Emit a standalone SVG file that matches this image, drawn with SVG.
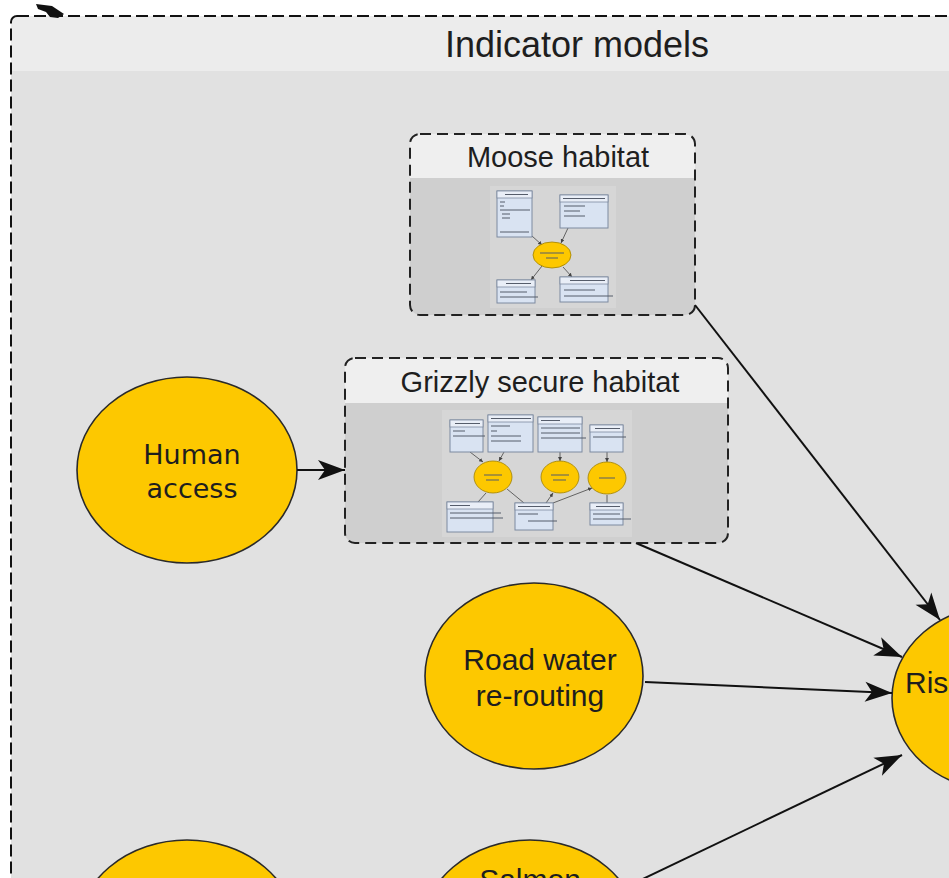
<svg xmlns="http://www.w3.org/2000/svg" width="949" height="878" viewBox="0 0 949 878">
  <style>
    .frame { stroke: #111; stroke-width: 2; fill: none; stroke-dasharray: 12 5; }
    .boxframe { stroke: #222; stroke-width: 2; fill: none; stroke-dasharray: 11 6; }
    .node { fill: #fdc800; stroke: #2a2a2a; stroke-width: 1.6; }
    .label { font-family: "Liberation Sans", Arial, sans-serif; fill: #1e1e1e; }
    .label-dv { font-family: "DejaVu Sans", Verdana, sans-serif; fill: #1e1e1e; }
    .edge { stroke: #111; stroke-width: 2; fill: none; }
    .tbox { fill: #d9e3f2; stroke: #7d8aa0; stroke-width: 1; }
    .thead { fill: #e9eef7; stroke: #7d8aa0; stroke-width: 0.8; }
    .tline { stroke: #555c6a; stroke-width: 1; }
    .tnode { fill: #fdc800; stroke: #a08000; stroke-width: 0.8; }
    .tedge { stroke: #555; stroke-width: 0.9; fill: none; }
  </style>
  <defs>
    <marker id="arrow" markerUnits="userSpaceOnUse" viewBox="-28 -11 29 22" refX="0" refY="0" markerWidth="29" markerHeight="22" orient="auto">
      <path d="M0,0 L-27,-10 L-20,0 L-27,10 Z" fill="#111"/>
    </marker>
    <marker id="tarrow" markerUnits="userSpaceOnUse" viewBox="-4 -2 4 4" refX="0" refY="0" markerWidth="4" markerHeight="4" orient="auto">
      <path d="M0,0 L-4,-2 L-4,2 Z" fill="#444"/>
    </marker>
  </defs>

  <rect x="0" y="0" width="949" height="878" fill="#ffffff"/>

  <!-- Indicator models container -->
  <g id="indicator-models">
    <rect x="11" y="16" width="1000" height="1000" rx="6" fill="#e1e1e1"/>
    <path d="M11,71 V22 A6,6 0 0 1 17,16 H1011 V71 Z" fill="#ececec"/>
    <rect x="11" y="16" width="1000" height="1000" rx="6" class="frame"/>
    <text x="577" y="57" text-anchor="middle" class="label" font-size="36">Indicator models</text>
  </g>

  <!-- incoming connector tip on the container border -->
  <path d="M36,4 L52,6 L64,14 L58,18 L50,17 L46,12 L38,9 Z" fill="#111"/>

  <!-- Moose habitat submodel -->
  <g id="moose-habitat">
    <rect x="410" y="134" width="285" height="181" rx="10" fill="#cfcfcf"/>
    <path d="M410,178 V144 A10,10 0 0 1 420,134 H685 A10,10 0 0 1 695,144 V178 Z" fill="#efefef"/>
    <rect x="410" y="134" width="285" height="181" rx="10" class="boxframe"/>
    <text x="558" y="167" text-anchor="middle" class="label" font-size="29">Moose habitat</text>
    <g id="moose-thumb">
      <rect x="490" y="186" width="126" height="122" fill="#d6d6d6"/>
      <line x1="532" y1="236" x2="542" y2="245" class="tedge" marker-end="url(#tarrow)"/>
      <line x1="568" y1="228" x2="561" y2="243" class="tedge" marker-end="url(#tarrow)"/>
      <line x1="542" y1="266" x2="531" y2="280" class="tedge" marker-end="url(#tarrow)"/>
      <line x1="563" y1="267" x2="572" y2="277" class="tedge" marker-end="url(#tarrow)"/>
      <rect x="497" y="191" width="35" height="46" class="tbox"/>
      <rect x="497" y="191" width="35" height="7" class="thead"/>
      <line x1="505" y1="194.5" x2="528" y2="194.5" class="tline"/>
      <line x1="500" y1="202" x2="505" y2="202" class="tline"/>
      <line x1="500" y1="206" x2="504" y2="206" class="tline"/>
      <line x1="500" y1="210" x2="530" y2="210" class="tline"/>
      <line x1="502" y1="214" x2="510" y2="214" class="tline"/>
      <line x1="502" y1="218" x2="510" y2="218" class="tline"/>
      <line x1="500" y1="232" x2="529" y2="232" class="tline"/>
      <rect x="560" y="195" width="48" height="33" class="tbox"/>
      <rect x="560" y="195" width="48" height="7" class="thead"/>
      <line x1="563" y1="198.5" x2="605" y2="198.5" class="tline"/>
      <line x1="564" y1="206" x2="585" y2="206" class="tline"/>
      <line x1="564" y1="211" x2="580" y2="211" class="tline"/>
      <line x1="564" y1="216" x2="585" y2="216" class="tline"/>
      <ellipse cx="552" cy="255" rx="19" ry="13" class="tnode"/>
      <line x1="540" y1="253" x2="564" y2="253" class="tline" stroke-width="0.8"/>
      <line x1="546" y1="258" x2="558" y2="258" class="tline" stroke-width="0.8"/>
      <rect x="497" y="280" width="38" height="23" class="tbox"/>
      <rect x="497" y="280" width="38" height="7" class="thead"/>
      <line x1="506" y1="283.5" x2="531" y2="283.5" class="tline"/>
      <line x1="500" y1="292" x2="527" y2="292" class="tline"/>
      <line x1="500" y1="297" x2="538" y2="297" class="tline"/>
      <rect x="560" y="277" width="48" height="25" class="tbox"/>
      <rect x="560" y="277" width="48" height="7" class="thead"/>
      <line x1="570" y1="280.5" x2="605" y2="280.5" class="tline"/>
      <line x1="564" y1="290" x2="595" y2="290" class="tline"/>
      <line x1="564" y1="296" x2="613" y2="296" class="tline"/>
    </g>
  </g>

  <!-- Grizzly secure habitat submodel -->
  <g id="grizzly-secure-habitat">
    <rect x="345" y="358" width="383" height="185" rx="10" fill="#cfcfcf"/>
    <path d="M345,403 V368 A10,10 0 0 1 355,358 H718 A10,10 0 0 1 728,368 V403 Z" fill="#efefef"/>
    <rect x="345" y="358" width="383" height="185" rx="10" class="boxframe"/>
    <text x="540" y="392" text-anchor="middle" class="label" font-size="29">Grizzly secure habitat</text>
    <g id="grizzly-thumb">
      <rect x="442" y="410" width="190" height="127" fill="#d6d6d6"/>
      <line x1="470" y1="452" x2="483" y2="462" class="tedge" marker-end="url(#tarrow)"/>
      <line x1="504" y1="452" x2="499" y2="461" class="tedge" marker-end="url(#tarrow)"/>
      <line x1="560" y1="452" x2="560" y2="461" class="tedge" marker-end="url(#tarrow)"/>
      <line x1="607" y1="452" x2="607" y2="462" class="tedge" marker-end="url(#tarrow)"/>
      <line x1="486" y1="493" x2="478" y2="502" class="tedge"/>
      <line x1="507" y1="489" x2="524" y2="503" class="tedge"/>
      <line x1="546" y1="503" x2="553" y2="493" class="tedge" marker-end="url(#tarrow)"/>
      <line x1="553" y1="503" x2="592" y2="488" class="tedge" marker-end="url(#tarrow)"/>
      <line x1="607" y1="495" x2="607" y2="503" class="tedge"/>
      <rect x="450" y="420" width="33" height="32" class="tbox"/>
      <rect x="450" y="420" width="33" height="7" class="thead"/>
      <line x1="455" y1="423.5" x2="480" y2="423.5" class="tline"/>
      <line x1="453" y1="431" x2="465" y2="431" class="tline"/>
      <line x1="453" y1="436" x2="485" y2="436" class="tline"/>
      <rect x="488" y="415" width="45" height="37" class="tbox"/>
      <rect x="488" y="415" width="45" height="7" class="thead"/>
      <line x1="491" y1="418.5" x2="531" y2="418.5" class="tline"/>
      <line x1="491" y1="426" x2="510" y2="426" class="tline"/>
      <line x1="491" y1="431" x2="497" y2="431" class="tline"/>
      <line x1="491" y1="436" x2="521" y2="436" class="tline"/>
      <line x1="491" y1="441" x2="521" y2="441" class="tline"/>
      <rect x="538" y="417" width="44" height="35" class="tbox"/>
      <rect x="538" y="417" width="44" height="7" class="thead"/>
      <line x1="541" y1="420.5" x2="560" y2="420.5" class="tline"/>
      <line x1="541" y1="428" x2="580" y2="428" class="tline"/>
      <line x1="541" y1="433" x2="580" y2="433" class="tline"/>
      <line x1="541" y1="438" x2="586" y2="438" class="tline"/>
      <rect x="590" y="425" width="33" height="27" class="tbox"/>
      <rect x="590" y="425" width="33" height="7" class="thead"/>
      <line x1="595" y1="428.5" x2="620" y2="428.5" class="tline"/>
      <line x1="593" y1="437" x2="626" y2="437" class="tline"/>
      <ellipse cx="493" cy="477" rx="19" ry="16" class="tnode"/>
      <line x1="484" y1="475" x2="502" y2="475" class="tline" stroke-width="0.8"/>
      <line x1="486" y1="480" x2="499" y2="480" class="tline" stroke-width="0.8"/>
      <ellipse cx="560" cy="477" rx="19" ry="16" class="tnode"/>
      <line x1="551" y1="475" x2="569" y2="475" class="tline" stroke-width="0.8"/>
      <line x1="553" y1="480" x2="566" y2="480" class="tline" stroke-width="0.8"/>
      <ellipse cx="607" cy="478" rx="19" ry="16" class="tnode"/>
      <line x1="599" y1="478" x2="615" y2="478" class="tline" stroke-width="0.8"/>
      <rect x="447" y="502" width="46" height="30" class="tbox"/>
      <rect x="447" y="502" width="46" height="7" class="thead"/>
      <line x1="450" y1="505.5" x2="470" y2="505.5" class="tline"/>
      <line x1="450" y1="513" x2="501" y2="513" class="tline"/>
      <line x1="450" y1="518" x2="503" y2="518" class="tline"/>
      <rect x="515" y="503" width="38" height="27" class="tbox"/>
      <rect x="515" y="503" width="38" height="7" class="thead"/>
      <line x1="518" y1="506.5" x2="550" y2="506.5" class="tline"/>
      <line x1="518" y1="514" x2="538" y2="514" class="tline"/>
      <line x1="528" y1="521" x2="557" y2="521" class="tline"/>
      <rect x="590" y="503" width="33" height="22" class="tbox"/>
      <rect x="590" y="503" width="33" height="7" class="thead"/>
      <line x1="596" y1="506.5" x2="620" y2="506.5" class="tline"/>
      <line x1="593" y1="514" x2="620" y2="514" class="tline"/>
      <line x1="593" y1="519" x2="631" y2="519" class="tline"/>
    </g>
  </g>

  <!-- Human access -->
  <g id="human-access">
    <ellipse cx="187" cy="470" rx="110" ry="93" class="node"/>
    <text x="192" y="464" text-anchor="middle" class="label-dv" font-size="27">Human</text>
    <text x="192" y="498" text-anchor="middle" class="label-dv" font-size="27">access</text>
  </g>

  <!-- Road water re-routing -->
  <g id="road-water-rerouting">
    <ellipse cx="534" cy="676" rx="109" ry="93" class="node"/>
    <text x="540" y="670" text-anchor="middle" class="label" font-size="30">Road water</text>
    <text x="540" y="706" text-anchor="middle" class="label" font-size="30">re-routing</text>
  </g>

  <!-- Risk node (right edge) -->
  <g id="risk">
    <ellipse cx="1000" cy="698" rx="108" ry="93" class="node"/>
    <text x="905" y="693" class="label" font-size="30">Ris</text>
  </g>

  <!-- lower row -->
  <g id="lower-left">
    <ellipse cx="187" cy="933" rx="110" ry="93" class="node"/>
  </g>
  <g id="salmon">
    <ellipse cx="530" cy="933" rx="109" ry="93" class="node"/>
    <text x="530" y="890" text-anchor="middle" class="label" font-size="30">Salmon</text>
  </g>

  <!-- connectors -->
  <g id="connectors">
    <line x1="297" y1="470" x2="345" y2="470" class="edge" marker-end="url(#arrow)"/>
    <line x1="695" y1="305" x2="940" y2="620" class="edge" marker-end="url(#arrow)"/>
    <line x1="636" y1="543" x2="902" y2="657" class="edge" marker-end="url(#arrow)"/>
    <line x1="645" y1="682" x2="892" y2="693" class="edge" marker-end="url(#arrow)"/>
    <line x1="626" y1="887" x2="902" y2="755" class="edge" marker-end="url(#arrow)"/>
  </g>
</svg>
